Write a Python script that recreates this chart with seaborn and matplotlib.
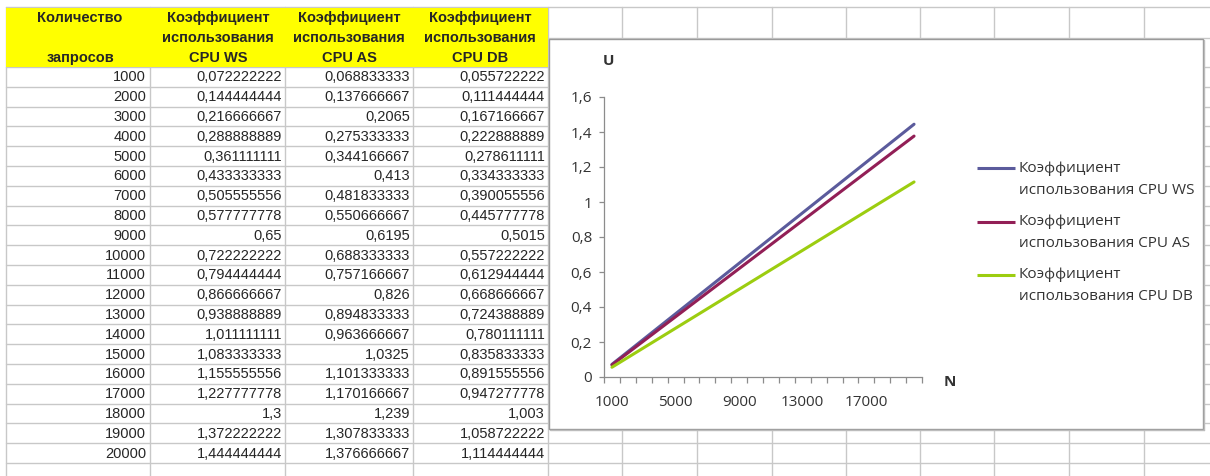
import matplotlib
matplotlib.use("Agg")
import matplotlib.pyplot as plt
import seaborn as sns
import pandas as pd
from matplotlib.patches import Rectangle
from matplotlib.ticker import FixedLocator, FuncFormatter

# Data read from the spreadsheet
n_requests = [1000, 2000, 3000, 4000, 5000, 6000, 7000, 8000, 9000, 10000,
              11000, 12000, 13000, 14000, 15000, 16000, 17000, 18000, 19000, 20000]
cpu_ws = [0.072222222, 0.144444444, 0.216666667, 0.288888889, 0.361111111,
          0.433333333, 0.505555556, 0.577777778, 0.65, 0.722222222,
          0.794444444, 0.866666667, 0.938888889, 1.011111111, 1.083333333,
          1.155555556, 1.227777778, 1.3, 1.372222222, 1.444444444]
cpu_as = [0.068833333, 0.137666667, 0.2065, 0.275333333, 0.344166667,
          0.413, 0.481833333, 0.550666667, 0.6195, 0.688333333,
          0.757166667, 0.826, 0.894833333, 0.963666667, 1.0325,
          1.101333333, 1.170166667, 1.239, 1.307833333, 1.376666667]
cpu_db = [0.055722222, 0.111444444, 0.167166667, 0.222888889, 0.278611111,
          0.334333333, 0.390055556, 0.445777778, 0.5015, 0.557222222,
          0.612944444, 0.668666667, 0.724388889, 0.780111111, 0.835833333,
          0.891555556, 0.947277778, 1.003, 1.058722222, 1.114444444]

series_names = ["Коэффициент\nиспользования CPU WS",
                "Коэффициент\nиспользования CPU AS",
                "Коэффициент\nиспользования CPU DB"]
header_a = ["Количество", "", "запросов"]
x_tick_labels = [1000, 5000, 9000, 13000, 17000]
y_ticks = [0, 0.2, 0.4, 0.6, 0.8, 1.0, 1.2, 1.4, 1.6]
colors = ["#5b5b9c", "#921f56", "#9ccd10"]

W, H = 1210, 476
sns.set_style("white")
plt.rcParams["font.family"] = ["Liberation Sans", "DejaVu Sans"]

fig = plt.figure(figsize=(W / 100, H / 100), dpi=100)
fig.patch.set_facecolor("white")

# background "sheet" axes in pixel coordinates
bg = fig.add_axes([0, 0, 1, 1])
bg.set_xlim(0, W)
bg.set_ylim(H, 0)
bg.axis("off")

grid_col = "#c8c8c8"
col_edges = [6, 150, 285, 413, 548]
right_cols = [622, 697, 772, 846, 920, 994, 1069, 1144]
row_h = 19.8
row_top = 67

# spreadsheet grid
for x in col_edges + right_cols:
    bg.plot([x, x], [7, H], color=grid_col, lw=1, zorder=1)
bg.plot([6, W], [7, 7], color=grid_col, lw=1, zorder=1)
bg.plot([548, W], [38, 38], color=grid_col, lw=1, zorder=1)
for k in range(21):
    y = row_top + k * row_h
    bg.plot([6, W], [y, y], color=grid_col, lw=1, zorder=1)

# yellow header
bg.add_patch(Rectangle((6, 8), 542, row_top - 8, facecolor="#ffff00",
                       edgecolor="none", zorder=2))
head_y = [18, 38, 58]
for line, y in zip(header_a, head_y):
    bg.text(80, y, line, ha="center", va="center", fontsize=10.5,
            fontweight="bold", zorder=3)
for cx, name in zip([218, 349, 480], series_names):
    first, second = name.split("\n")
    lines = [first, second.rsplit(" ", 2)[0], " ".join(second.split(" ")[1:])]
    for line, y in zip(lines, head_y):
        bg.text(cx, y, line, ha="center", va="center", fontsize=10.5,
                fontweight="bold", zorder=3)


def fmt_cell(v):
    return f"{v:.9f}".rstrip("0").rstrip(".").replace(".", ",")


for i, n in enumerate(n_requests):
    y = row_top + (i + 0.5) * row_h + 0.5
    bg.text(146, y, str(n), ha="right", va="center", fontsize=10.5, zorder=3)
    for xr, vals in zip([282, 410, 545], [cpu_ws, cpu_as, cpu_db]):
        bg.text(xr, y, fmt_cell(vals[i]), ha="right", va="center",
                fontsize=10.5, zorder=3)

# chart frame
bg.add_patch(Rectangle((549, 39), 654, 390, facecolor="white",
                       edgecolor="#9a9a9a", lw=1, zorder=4))
bg.plot([1204, 1204], [40, 430], color="#bcbcbc", lw=1, zorder=4)
bg.plot([550, 1204], [430, 430], color="#bcbcbc", lw=1, zorder=4)

chart_font = ["Open Sans", "DejaVu Sans"]
txt_col = "#333333"
bg.text(609, 61, "U", ha="center", va="center", fontsize=11,
        fontweight="bold", family=chart_font, color=txt_col, zorder=5)
bg.text(950, 382, "N", ha="center", va="center", fontsize=11,
        fontweight="bold", family=chart_font, color=txt_col, zorder=5)

# manual legend
for k, (name, c) in enumerate(zip(series_names, colors)):
    y0 = 168 + k * 53.5
    bg.plot([977, 1015], [y0, y0], color=c, lw=2.2, zorder=5,
            solid_capstyle="butt")
    first, second = name.split("\n")
    bg.text(1019, y0, first, ha="left", va="center", fontsize=11,
            family=chart_font, color=txt_col, zorder=5)
    bg.text(1019, y0 + 22, second, ha="left", va="center", fontsize=11,
            family=chart_font, color=txt_col, zorder=5)

# line chart
df = pd.DataFrame({
    "N": n_requests * 3,
    "U": cpu_ws + cpu_as + cpu_db,
    "series": [series_names[0]] * 20 + [series_names[1]] * 20 + [series_names[2]] * 20,
})

ax_l, ax_r, ax_t, ax_b = 604, 922, 97, 377
ax = fig.add_axes([ax_l / W, 1 - ax_b / H, (ax_r - ax_l) / W, (ax_b - ax_t) / H])
ax.set_zorder(10)
ax.patch.set_alpha(0)
sns.lineplot(data=df, x="N", y="U", hue="series", palette=colors,
             linewidth=2.2, legend=False, ax=ax)
ax.set_xlim(500, 20500)
ax.set_ylim(0, 1.6)
ax.set_xlabel("")
ax.set_ylabel("")
for s in ["top", "right"]:
    ax.spines[s].set_visible(False)
for s in ["left", "bottom"]:
    ax.spines[s].set_color("#8c8c8c")
    ax.spines[s].set_linewidth(0.9)

ax.xaxis.set_major_locator(FixedLocator(x_tick_labels))
ax.xaxis.set_minor_locator(FixedLocator([n - 500 for n in n_requests] + [n_requests[-1] + 500]))
ax.set_yticks(y_ticks)
ax.yaxis.set_major_formatter(FuncFormatter(lambda v, p: f"{v:g}".replace(".", ",")))
ax.tick_params(axis="x", which="major", length=0, pad=13, labelsize=11,
               labelcolor=txt_col)
ax.tick_params(axis="x", which="minor", length=4.5, width=0.9,
               color="#8c8c8c", direction="out", bottom=True)
ax.tick_params(axis="y", which="major", length=3.6, width=0.9, pad=5,
               color="#8c8c8c", direction="out", labelsize=11,
               labelcolor=txt_col, left=True)
for lab in ax.get_xticklabels() + ax.get_yticklabels():
    lab.set_family(chart_font)

fig.savefig("out.png", dpi=100)
